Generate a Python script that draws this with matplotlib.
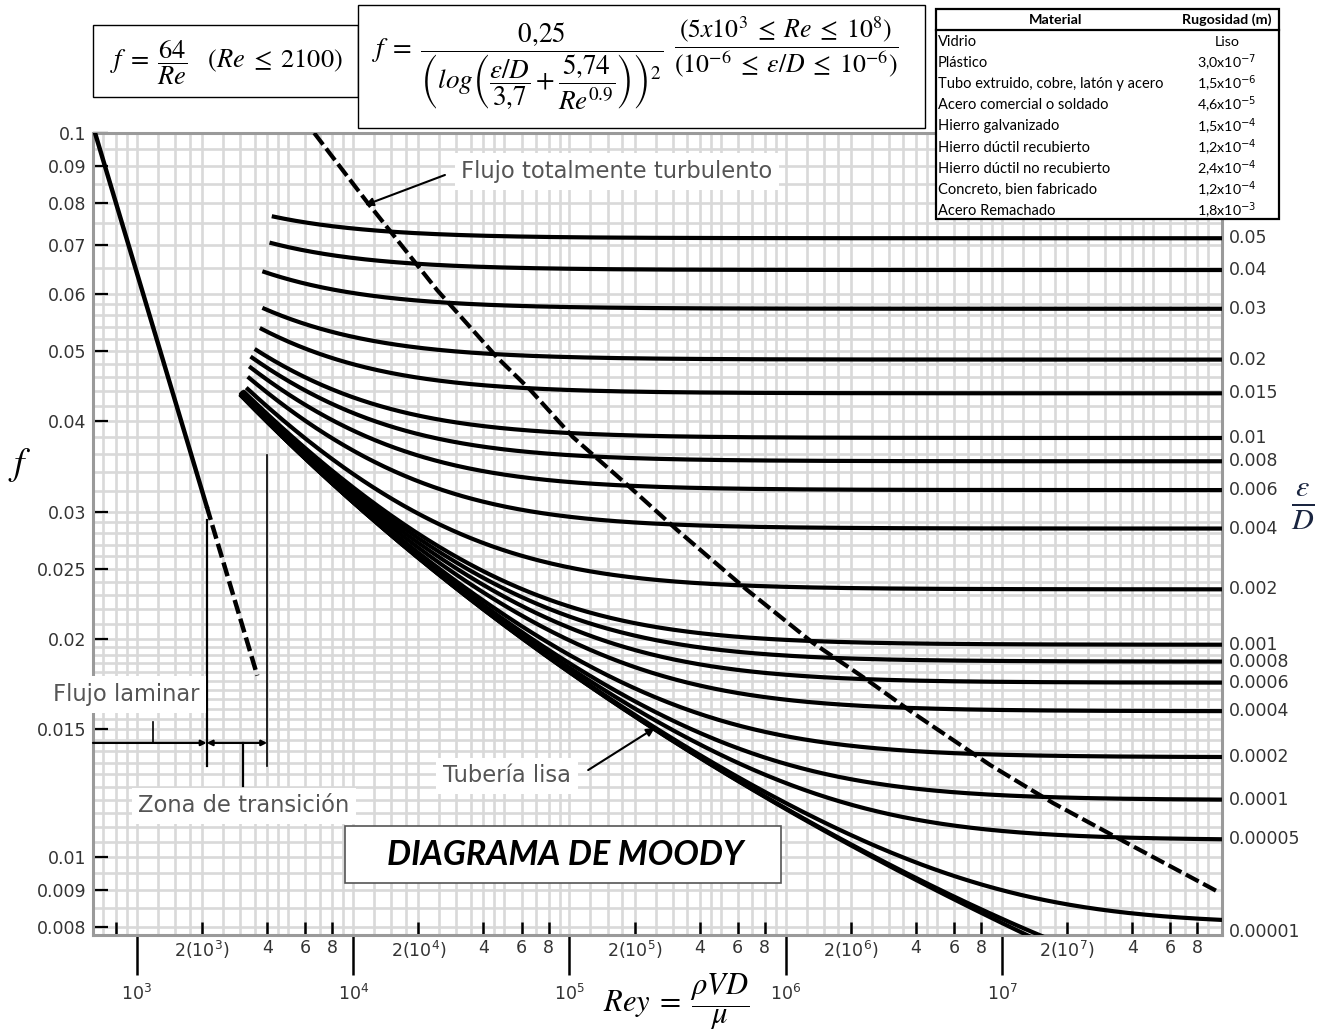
import numpy as np
import matplotlib
matplotlib.use('Agg')
import matplotlib.pyplot as plt
from matplotlib.patches import Rectangle
from matplotlib.lines import Line2D
from matplotlib.ticker import FixedLocator, FixedFormatter, NullLocator

############ datos del diagrama ############################################

# rugosidad relativa de cada curva y Re donde empieza cada curva
rugosidad = [0.05, 0.04, 0.03, 0.02, 0.015, 0.01, 0.008, 0.006, 0.004, 0.002,
             0.001, 0.0008, 0.0006, 0.0004, 0.0002, 0.0001, 0.00005, 0.00001,
             0.000001, 0.0]
re_inicio = [4200, 4100, 3800, 3800, 3700, 3500, 3350, 3300, 3250, 3200,
             3100, 3050, 3050, 3000, 3000, 3000, 3000, 3000, 3000, 3000]
etiquetas_rug = ['0.05', '0.04', '0.03', '0.02', '0.015', '0.01', '0.008',
                 '0.006', '0.004', '0.002', '0.001', '0.0008', '0.0006',
                 '0.0004', '0.0002', '0.0001', '0.00005', '0.00001']

# flujo laminar (solido hasta 2100, luego discontinuo)
lam_re = [626, 2100]
lam_f = [0.1022, 0.0305]
lam_re_trans = [2100, 3600]
lam_f_trans = [0.0305, 0.0178]

# linea de flujo totalmente turbulento
turb_re = [6600, 11580, 24400, 46200, 65700, 103800, 190500, 314000, 662000,
           1337000, 2276000, 3876000, 8800000, 17210000, 37840000, 101900000]
turb_f = [0.1, 0.0803, 0.0607, 0.0490, 0.0442, 0.0380, 0.0324, 0.0283,
          0.02338, 0.01975, 0.01772, 0.01581, 0.01340, 0.01187, 0.01045,
          0.00892]

y_ticks = [0.1, 0.09, 0.08, 0.07, 0.06, 0.05, 0.04, 0.03, 0.025, 0.02,
           0.015, 0.01, 0.009, 0.008]
y_labels = ['0.1', '0.09', '0.08', '0.07', '0.06', '0.05', '0.04', '0.03',
            '0.025', '0.02', '0.015', '0.01', '0.009', '0.008']
x_major = [1e3, 1e4, 1e5, 1e6, 1e7]
x_major_lab = ['$10^{3}$', '$10^{4}$', '$10^{5}$', '$10^{6}$', '$10^{7}$']
x_minor = [800]
x_minor_lab = ['']
for e in range(3, 8):
    x_minor += [2 * 10**e, 4 * 10**e, 6 * 10**e, 8 * 10**e]
    x_minor_lab += ['$2(10^{%d})$' % e, '4', '6', '8']

materiales = ['Vidrio', 'Plástico', 'Tubo extruido, cobre, latón y acero',
              'Acero comercial o soldado', 'Hierro galvanizado',
              'Hierro dúctil recubierto', 'Hierro dúctil no recubierto',
              'Concreto, bien fabricado', 'Acero Remachado']
rug_abs = ['Liso', '3,0x10$^{-7}$', '1,5x10$^{-6}$', '4,6x10$^{-5}$',
           '1,5x10$^{-4}$', '1,2x10$^{-4}$', '2,4x10$^{-4}$', '1,2x10$^{-4}$',
           '1,8x10$^{-3}$']

XMIN, XMAX = 626, 1.041e8
YMIN, YMAX = 0.0078, 0.1

############ funciones ######################################################

def colebrook(re, rr):
    x = np.full_like(re, 8.0)
    for _ in range(80):
        x = -2 * np.log10(rr / 3.7 + 2.51 * x / re)
    return 1 / x**2

W, H = 1317, 1036

def fx(x):
    return x / W

def fy(y):
    return 1 - y / H

############ figura ########################################################

fig = plt.figure(figsize=(W / 100, H / 100), dpi=100)
ax = fig.add_axes([fx(93), fy(935), (1222 - 93) / W, (935 - 133) / H])
ax.set_xscale('log')
ax.set_yscale('log')
ax.set_xlim(XMIN, XMAX)
ax.set_ylim(YMIN, YMAX)

# rejilla
gx = [m * 10**e for e in range(2, 8)
      for m in (1, 1.25, 1.5, 1.75, 2, 2.5, 3, 3.5, 4, 4.5, 5, 6, 7, 8, 9)]
gy = list(np.arange(0.008, 0.02, 0.0005)) + list(np.arange(0.02, 0.03, 0.001)) \
    + list(np.arange(0.03, 0.06, 0.002)) + list(np.arange(0.06, 0.1001, 0.005))
for g in gx:
    ax.axvline(g, color='#d9d9d9', lw=1.9, zorder=0.5)
for g in gy:
    ax.axhline(g, color='#d9d9d9', lw=1.9, zorder=0.5)

for sp in ax.spines.values():
    sp.set_color('#9a9a9a')
    sp.set_linewidth(2.2)

# curvas de rugosidad (Colebrook)
for rr, r0 in zip(rugosidad, re_inicio):
    re = np.logspace(np.log10(r0), np.log10(XMAX), 400)
    ax.plot(re, colebrook(re, rr), color='black', lw=3, zorder=3,
            solid_capstyle='butt')

# etiquetas eps/D a la derecha
for rr, lab in zip(rugosidad, etiquetas_rug):
    fr = colebrook(np.array([XMAX]), rr)[0]
    if lab == '0.00001':
        fr = YMIN * 1.01
    ax.text(1.006, fr, lab, transform=ax.get_yaxis_transform(), va='center',
            ha='left', fontsize=12.5, color='#333333')

# flujo laminar
ax.plot(lam_re, lam_f, color='black', lw=3.2, zorder=3)
ax.plot(lam_re_trans, lam_f_trans, color='black', lw=3.2, zorder=3,
        dashes=(3.2, 1.2))

# flujo totalmente turbulento
ax.plot(turb_re, turb_f, color='black', lw=3, zorder=3, dashes=(3.5, 1.2))

# ejes / ticks
ax.yaxis.set_major_locator(FixedLocator(y_ticks))
ax.yaxis.set_major_formatter(FixedFormatter(y_labels))
ax.yaxis.set_minor_locator(NullLocator())
ax.tick_params(axis='y', which='major', direction='in', length=11, width=1.6,
               color='black', labelsize=12.5, labelcolor='#333333', pad=5)
ax.xaxis.set_major_locator(FixedLocator(x_major))
ax.xaxis.set_major_formatter(FixedFormatter(x_major_lab))
ax.xaxis.set_minor_locator(FixedLocator(x_minor))
ax.xaxis.set_minor_formatter(FixedFormatter(x_minor_lab))
ax.tick_params(axis='x', which='major', direction='out', length=29, width=1.8,
               color='black', labelsize=12.5, labelcolor='#333333', pad=6)
ax.tick_params(axis='x', which='minor', direction='in', length=9.5, width=1.8,
               color='black', labelsize=12.5, labelcolor='#333333', pad=3)

# anotaciones
txt_kw = dict(fontsize=16.3, color='#555555', ha='center', va='center',
              zorder=6,
              bbox=dict(boxstyle='square,pad=0.3', fc='white', ec='none'))
ax.text(166000, 0.0884, 'Flujo totalmente turbulento', **txt_kw)
ax.annotate('', xy=(11330, 0.0795), xytext=(26550, 0.0875),
            arrowprops=dict(arrowstyle='-|>', lw=1.5, color='black',
                            mutation_scale=12, shrinkA=0, shrinkB=0), zorder=6)
ax.text(890, 0.01675, 'Flujo laminar', **txt_kw)
ax.text(3124, 0.01176, 'Zona de transición', **txt_kw)
ax.text(51400, 0.01294, 'Tubería lisa', **txt_kw)
ax.annotate('', xy=(248000, 0.01507), xytext=(122000, 0.01318),
            arrowprops=dict(arrowstyle='-|>', lw=1.5, color='black',
                            mutation_scale=12, shrinkA=0, shrinkB=0), zorder=6)

# zona laminar / transicion
ax.plot([2100, 2100], [0.0292, 0.01336], color='black', lw=1.6, zorder=4)
ax.plot([4000, 4000], [0.0359, 0.01336], color='black', lw=1.2, zorder=4)
ax.plot([1190, 1190], [0.01536, 0.01437], color='black', lw=1.2, zorder=4)
ax.plot([3100, 3100], [0.01437, 0.01252], color='black', lw=1.6, zorder=4)
ax.annotate('', xy=(2100, 0.01437), xytext=(XMIN, 0.01437),
            arrowprops=dict(arrowstyle='-|>', lw=1.6, color='black',
                            mutation_scale=8, shrinkA=0, shrinkB=0), zorder=4)
ax.annotate('', xy=(4000, 0.01437), xytext=(2100, 0.01437),
            arrowprops=dict(arrowstyle='<|-|>', lw=1.6, color='black',
                            mutation_scale=8, shrinkA=0, shrinkB=0), zorder=4)

# titulo en caja
fig.patches.append(Rectangle((fx(345), fy(883)), 436 / W, 57 / H,
                             transform=fig.transFigure, fc='white',
                             ec='#555555', lw=1.2, zorder=10))
fig.text(fx(565), fy(855), 'DIAGRAMA DE MOODY', fontsize=24.5,
         fontweight='bold', fontstyle='italic', family='Lato', ha='center',
         va='center', zorder=11)

# etiquetas de ejes
fig.text(fx(20), fy(465), '$f$', fontsize=27, math_fontfamily='stix',
         ha='center', va='center')
fig.text(fx(1303), fy(507), r'$\frac{\epsilon}{D}$', fontsize=31,
         math_fontfamily='stix', ha='center', va='center', color='#1a2540')
fig.text(fx(676), fy(1002), r'$Rey\;=\;\dfrac{\rho VD}{\mu}$', fontsize=22,
         math_fontfamily='stix', ha='center', va='center')

# formulas
fig.patches.append(Rectangle((fx(93), fy(97)), 265 / W, 72 / H,
                             transform=fig.transFigure, fc='white',
                             ec='black', lw=1, zorder=10))
fig.text(fx(226), fy(63), r'$f\;=\;\dfrac{64}{Re}\quad(Re\;\leq\;2100)$',
         fontsize=19, math_fontfamily='stix', ha='center', va='center',
         zorder=11)
fig.patches.append(Rectangle((fx(358), fy(128)), 567 / W, 123 / H,
                             transform=fig.transFigure, fc='white',
                             ec='black', lw=1, zorder=10))
fig.text(fx(518), fy(66),
         r'$f\;=\;\dfrac{0{,}25}{\left(log\left(\dfrac{\varepsilon/D}{3{,}7}'
         r'+\dfrac{5{,}74}{Re^{0.9}}\right)\right)^{2}}$',
         fontsize=19.5, math_fontfamily='stix', ha='center', va='center',
         zorder=11)
fig.text(fx(786), fy(47),
         r'$\dfrac{(5x10^{3}\;\leq\;Re\;\leq\;10^{8})}'
         r'{(10^{-6}\;\leq\;\varepsilon/D\;\leq\;10^{-6})}$',
         fontsize=18.5, math_fontfamily='stix', ha='center', va='center',
         zorder=11)

# tabla de materiales
fig.patches.append(Rectangle((fx(936), fy(219)), 343 / W, 210 / H,
                             transform=fig.transFigure, fc='white',
                             ec='black', lw=1.6, zorder=10))
fig.lines.append(Line2D([fx(936), fx(1279)], [fy(30), fy(30)],
                        transform=fig.transFigure, color='black', lw=1.6,
                        zorder=11))
fig.text(fx(1056), fy(20), 'Material', fontsize=10.3, fontweight='bold',
         family='Lato', ha='center', va='center', zorder=11)
fig.text(fx(1227), fy(20), 'Rugosidad (m)', fontsize=10.3, fontweight='bold',
         family='Lato', ha='center', va='center', zorder=11)
for i, (mat, rg) in enumerate(zip(materiales, rug_abs)):
    yy = 42 + i * 21.1
    fig.text(fx(938), fy(yy), mat, fontsize=10.5, family='Lato', ha='left',
             va='center', zorder=11)
    fig.text(fx(1227), fy(yy), rg, fontsize=10.3, family='Lato', ha='center',
             va='center', zorder=11)

fig.savefig('out.png', dpi=100)
